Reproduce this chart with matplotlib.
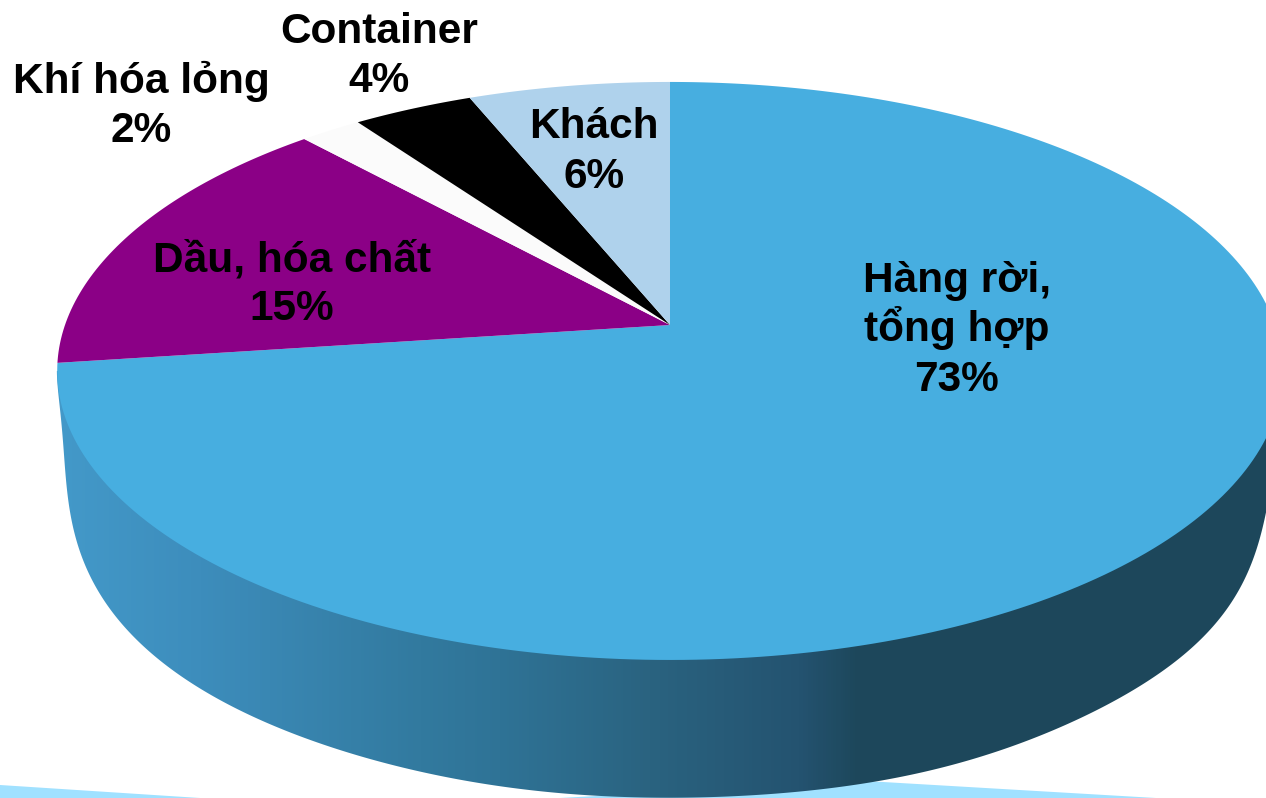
import numpy as np
import matplotlib
matplotlib.use("Agg")
import matplotlib.pyplot as plt
from matplotlib.colors import LinearSegmentedColormap
from matplotlib.patches import Polygon
from matplotlib.path import Path
from matplotlib.transforms import Affine2D, Transform
from numpy.polynomial import chebyshev as cheb

# Data
categories = ["Hàng rời,\ntổng hợp", "Dầu, hóa chất", "Khí hóa lỏng", "Container", "Khách"]
values = [72.9, 15.3, 1.9, 3.7, 6.2]

# Style
colors = ["#47AEE0", "#8B0086", "#FBFBFB", "#000000", "#AFD2EC"]
label_xy = [(957, 292), (292, 271), (141, 92.5), (379, 43), (594, 138.5)]
line_step = 49.3
W, H = 1266, 798
CX, CY, A, B, K = 670, 325, 605, 281.7, 0.159


class Perspective(Transform):
    """Tilts the flat unit-circle pie into page pixels, with perspective."""
    input_dims = output_dims = 2

    def transform_non_affine(self, xy):
        xy = np.asarray(xy, float)
        w = 1 + K * xy[:, 1]
        return np.column_stack((CX + A * xy[:, 0] / w, CY - B * xy[:, 1] / w))

    def transform_path_non_affine(self, path):
        s = 3000.0
        polys = path.to_polygons(Affine2D().scale(s))
        return Path(self.transform_non_affine(polys[0] / s), closed=True)


def smooth_outline(points, degree=13, n=500):
    """Smooth curve through an outline traced from the wall's edge."""
    p = np.asarray(points, float)
    u = np.r_[0, np.cumsum(np.hypot(*np.diff(p, axis=0).T))]
    u = 2 * u / u[-1] - 1
    ud = np.linspace(-1, 1, n)
    return np.column_stack((cheb.chebval(ud, cheb.chebfit(u, p[:, 0], degree)),
                            cheb.chebval(ud, cheb.chebfit(u, p[:, 1], degree))))


plt.rcParams["font.family"] = ["Liberation Sans", "DejaVu Sans"]
fig = plt.figure(figsize=(W / 100, H / 100), dpi=100, facecolor="white")
ax = fig.add_axes([0, 0, 1, 1])

# Flat pie from the data
wedges, _ = ax.pie(values, colors=colors, startangle=90, counterclock=False,
                   wedgeprops={"linewidth": 0})

# Pale blue shapes along the bottom edge
band = "#A0E1FF"
ax.add_patch(Polygon([(0, 785), (200, 798), (0, 798)], color=band, lw=0, zorder=0.5))
ax.add_patch(Polygon([(560, 798), (866, 781), (1156, 798)], color=band, lw=0, zorder=0.5))

# Side wall with horizontal gradient, clipped to the silhouette
stops = [(0.0, "#4AA2D2"), (60 / W, "#4399C9"), (200 / W, "#3D8DBC"), (420 / W, "#327A9F"),
         (500 / W, "#2F7396"), (650 / W, "#2A6380"), (800 / W, "#245370"),
         (860 / W, "#1D475B"), (1.0, "#1D475B")]
cmap = LinearSegmentedColormap.from_list("side", stops, N=512)
im = ax.imshow(np.linspace(0, 1, W)[None, :], cmap=cmap, extent=(0, W, H, 0),
               aspect="auto", zorder=1)
t = np.linspace(np.pi, 2 * np.pi, 60)
arc = np.column_stack((672 + 597 * np.cos(t), 515 - 283 * np.sin(t)))
arc = arc[(arc[:, 0] > 125) & (arc[:, 0] < 1000)]
left_edge = [(57, 371), (58, 393), (63, 440), (68, 493), (73, 527), (78, 550),
             (88, 573), (102, 595), (118, 618)]
right_edge = [(1013, 747), (1070, 723), (1126, 693), (1159, 673), (1193, 647),
              (1216, 623), (1236, 597), (1249, 570), (1259, 540), (1266, 510),
              (1280, 440), (1285, 371)]
outline = smooth_outline(np.vstack((left_edge, arc, right_edge)))
clip = Polygon(outline, transform=ax.transData, fc="none", ec="none")
ax.add_patch(clip)
im.set_clip_path(clip)

# Tilt the pie
persp = Perspective() + ax.transData
for w in wedges:
    w.set_transform(persp)
    w.set_zorder(2)
    w.set_clip_box(ax.bbox)

ax.set_aspect("auto")
ax.set_xlim(0, W)
ax.set_ylim(H, 0)
ax.axis("off")

for name, val, (x, y) in zip(categories, values, label_xy):
    lines = name.split("\n") + [f"{round(val)}%"]
    for i, line in enumerate(lines):
        ax.text(x, y + i * line_step, line, ha="center", va="baseline", fontsize=30.5,
                fontweight="bold", color="black", zorder=3)

fig.savefig("out.png", dpi=100)
